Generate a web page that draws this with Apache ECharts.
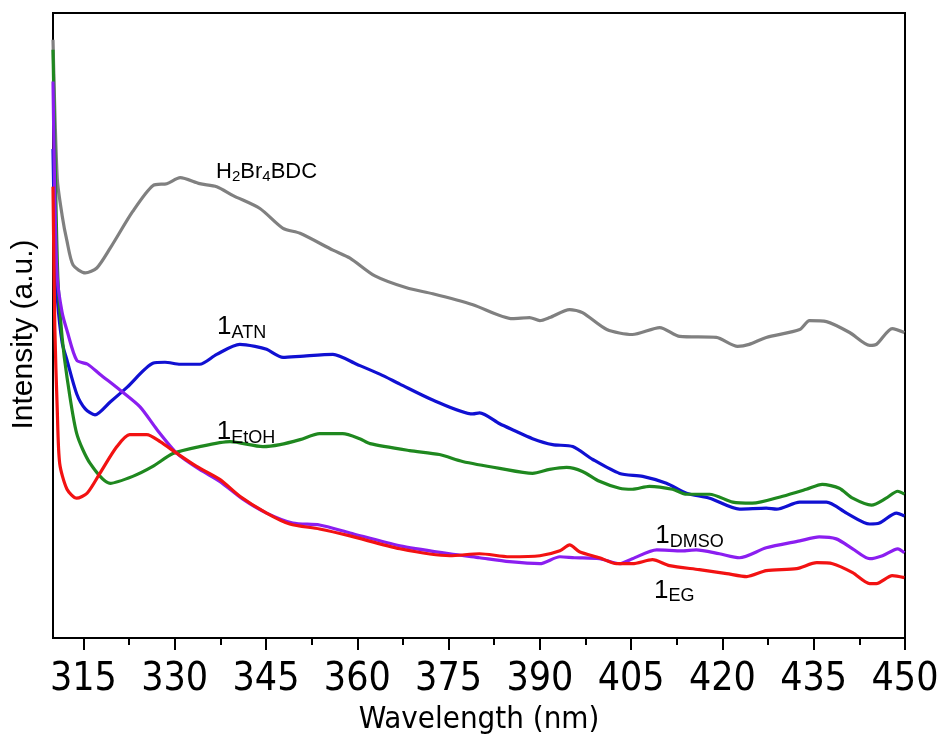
<!DOCTYPE html>
<html>
<head>
<meta charset="utf-8">
<script src="https://cdn.jsdelivr.net/npm/echarts@6/dist/echarts.min.js"></script>
<style>
  html, body { margin: 0; padding: 0; background: #fff; }
  #chart { width: 942px; height: 740px; }
</style>
</head>
<body>
<div id="chart"></div>
<script>
// Emission spectra, wavelength (nm) vs intensity (a.u.)
const majorTicks = [315, 330, 345, 360, 375, 390, 405, 420, 435, 450];
const minorTicks = [322.5, 337.5, 352.5, 367.5, 382.5, 397.5, 412.5, 427.5, 442.5];

const ligand = [
  [310.0, 603], [310.7, 463], [311.5, 426], [312.3, 400], [313.3, 376], [315.3, 368],
  [317.2, 373], [319.4, 393], [323.1, 430], [326.4, 456], [328.7, 458], [330.9, 464],
  [334.1, 458], [336.9, 455], [339.6, 446], [344.0, 433], [347.8, 413], [350.6, 408],
  [356.0, 391], [358.8, 383], [362.9, 365], [368.1, 353], [372.4, 347], [379.0, 336],
  [385.5, 322], [388.3, 323], [390.0, 320], [391.6, 323], [394.9, 331], [397.0, 328],
  [401.0, 311], [405.2, 306], [409.7, 313], [413.0, 304], [419.0, 303], [422.5, 294],
  [424.4, 296], [427.2, 303], [432.7, 311], [434.3, 320], [437.1, 319], [440.9, 308],
  [444.2, 295], [445.3, 296], [447.9, 312], [449.9, 308]
];

const atn = [
  [310.0, 493], [310.3, 393], [310.7, 343], [311.5, 298], [312.3, 280], [313.9, 246],
  [315.3, 231], [316.9, 225], [319.4, 238], [322.2, 253], [326.4, 277], [328.4, 278],
  [330.9, 276], [334.1, 276], [336.9, 286], [340.7, 296], [343.2, 294], [345.1, 291],
  [347.8, 283], [350.6, 284], [356.0, 286], [359.9, 276], [363.7, 266], [367.0, 256],
  [372.4, 240], [379.0, 226], [380.1, 227], [383.4, 216], [385.5, 210], [388.8, 201],
  [392.1, 195], [395.4, 193], [398.7, 180], [403.1, 166], [406.9, 163], [410.8, 156],
  [414.1, 146], [417.9, 141], [422.8, 130], [427.2, 131], [428.9, 130], [432.7, 137],
  [437.1, 137], [440.4, 126], [444.2, 115], [445.8, 116], [448.6, 126], [449.9, 123]
];

const etoh = [
  [310.0, 593], [310.3, 493], [310.8, 363], [311.5, 303], [312.3, 263], [313.9, 206],
  [316.1, 176], [319.4, 156], [323.1, 163], [326.4, 173], [329.7, 186], [334.1, 193],
  [339.1, 198], [344.5, 193], [347.3, 195], [350.6, 200], [353.8, 206], [357.6, 206],
  [360.4, 201], [362.1, 196], [368.6, 189], [373.5, 185], [377.3, 178], [383.4, 171],
  [388.8, 166], [391.6, 170], [394.4, 172], [397.0, 168], [399.8, 158], [403.1, 151],
  [405.2, 150], [408.0, 153], [411.8, 150], [414.1, 145], [417.9, 145], [421.7, 137],
  [424.9, 136], [429.9, 143], [433.8, 150], [436.4, 155], [439.2, 151], [441.4, 141],
  [444.5, 134], [446.9, 141], [448.8, 148], [449.9, 145]
];

const dmso = [
  [310.0, 561], [310.3, 443], [310.7, 363], [311.5, 328], [312.3, 310], [313.9, 280],
  [315.7, 276], [317.7, 266], [321.0, 250], [324.3, 233], [327.1, 210], [330.4, 186],
  [334.1, 170], [337.4, 158], [341.2, 140], [345.1, 126], [349.4, 116], [353.8, 114],
  [358.8, 106], [367.0, 93], [375.2, 85], [380.1, 81], [385.0, 77], [390.0, 75],
  [393.3, 82], [395.7, 81], [399.8, 80], [403.1, 75], [405.2, 80], [409.2, 89],
  [413.4, 88], [415.7, 89], [419.5, 85], [422.8, 81], [427.2, 91], [432.7, 98],
  [435.9, 102], [438.7, 100], [441.4, 90], [444.2, 80], [446.3, 83], [448.8, 90],
  [449.9, 86]
];

const eg = [
  [310.0, 455], [310.3, 313], [310.7, 230], [311.1, 176], [312.3, 150], [313.9, 141],
  [315.6, 146], [317.7, 166], [320.5, 193], [322.6, 205], [325.4, 205], [327.6, 198],
  [330.4, 186], [333.6, 173], [337.4, 160], [340.7, 143], [345.1, 126], [348.9, 115],
  [353.8, 110], [358.8, 103], [367.0, 90], [375.2, 83], [380.1, 85], [385.0, 82],
  [390.0, 83], [393.3, 88], [394.9, 94], [396.5, 87], [399.8, 81], [402.6, 75],
  [405.2, 75], [408.5, 79], [411.3, 73], [416.2, 69], [420.7, 65], [424.0, 62],
  [427.2, 68], [432.2, 70], [435.5, 76], [438.1, 75], [441.4, 66], [444.2, 55],
  [445.3, 55], [447.9, 63], [449.9, 61]
];

// label anchor points [wavelength, intensity]
const labelAt = {
  ligand: [345.1, 470],
  atn: [341.0, 314],
  etoh: [341.7, 208],
  dmso: [414.6, 103],
  eg: [412.1, 48]
};

const FONT = 'Arial, "Liberation Sans", Helvetica, sans-serif';
const NARROW = '"Liberation Sans Narrow", "Arial Narrow", "DejaVu Sans Condensed", sans-serif';

const subRich = {
  n: { fontFamily: FONT, fontSize: 26, lineHeight: 28, color: '#000' },
  s: { fontFamily: FONT, fontSize: 18, lineHeight: 18, padding: [12, 0, 0, 0], color: '#000' },
  h: { fontFamily: FONT, fontSize: 22, lineHeight: 24, color: '#000' },
  hs: { fontFamily: FONT, fontSize: 15, lineHeight: 15, padding: [11, 0, 0, 0], color: '#000' }
};

function tag(coord, text) {
  return {
    symbol: 'circle',
    symbolSize: 1,
    silent: true,
    itemStyle: { color: 'rgba(0,0,0,0)' },
    data: [{ coord: coord }],
    label: {
      show: true,
      position: 'inside',
      formatter: text,
      rich: subRich
    }
  };
}

function line(name, data, color, mark) {
  return {
    name: name,
    type: 'line',
    data: data,
    showSymbol: false,
    smooth: 0.25,
    lineStyle: { color: color, width: 3.2 },
    itemStyle: { color: color },
    animation: false,
    markPoint: mark
  };
}

const chart = echarts.init(document.getElementById('chart'), null, { renderer: 'canvas' });

chart.setOption({
  backgroundColor: '#fff',
  animation: false,
  grid: {
    left: 53, right: 37, top: 13, bottom: 97,
    show: true, borderColor: '#000', borderWidth: 2, backgroundColor: 'transparent'
  },
  xAxis: [
    {
      type: 'value',
      min: 310, max: 450,
      name: 'Wavelength (nm)',
      nameLocation: 'middle',
      nameGap: 63,
      nameTextStyle: { fontFamily: NARROW, fontSize: 31, color: '#000' },
      axisLine: { show: true, lineStyle: { color: '#000', width: 2 } },
      axisTick: { show: true, length: 12, inside: false, lineStyle: { color: '#000', width: 2 }, customValues: majorTicks },
      axisLabel: { show: true, margin: 22, fontFamily: NARROW, fontSize: 39, color: '#000', customValues: majorTicks },
      splitLine: { show: false }
    },
    {
      type: 'value',
      min: 310, max: 450,
      position: 'bottom',
      axisLine: { show: false },
      axisTick: { show: true, length: 7, lineStyle: { color: '#000', width: 2 }, customValues: minorTicks },
      axisLabel: { show: false },
      splitLine: { show: false }
    }
  ],
  yAxis: {
    type: 'value',
    min: 0, max: 630,
    name: 'Intensity (a.u.)',
    nameLocation: 'middle',
    nameGap: 14,
    nameRotate: 90,
    nameTextStyle: { fontFamily: FONT, fontSize: 30, color: '#000', padding: [0, 18, 0, 0] },
    axisLine: { show: true, lineStyle: { color: '#000', width: 2 } },
    axisTick: { show: false },
    axisLabel: { show: false },
    splitLine: { show: false }
  },
  series: [
    line('H2Br4BDC', ligand, '#808080', tag(labelAt.ligand, '{h|H}{hs|2}{h|Br}{hs|4}{h|BDC}')),
    line('1ATN', atn, '#1010d2', tag(labelAt.atn, '{n|1}{s|ATN}')),
    line('1EtOH', etoh, '#1f881f', tag(labelAt.etoh, '{n|1}{s|EtOH}')),
    line('1DMSO', dmso, '#8b1ef0', tag(labelAt.dmso, '{n|1}{s|DMSO}')),
    line('1EG', eg, '#f21212', tag(labelAt.eg, '{n|1}{s|EG}'))
  ]
});
</script>
</body>
</html>
